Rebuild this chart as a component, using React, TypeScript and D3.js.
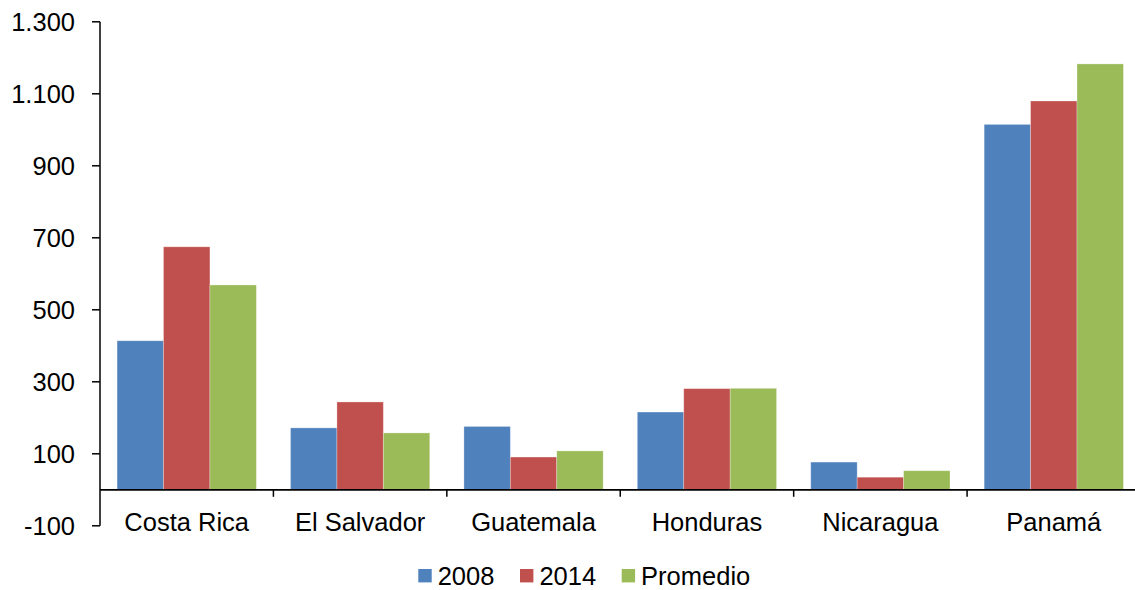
import React from "react";
import * as d3 from "d3";

const categories = ["Costa Rica", "El Salvador", "Guatemala", "Honduras", "Nicaragua", "Panamá"];
const seriesNames = ["2008", "2014", "Promedio"];
const values2008 = [414, 172, 176, 216, 77, 1015];
const values2014 = [675, 244, 91, 281, 35, 1080];
const valuesPromedio = [569, 158, 108, 282, 53, 1183];
const yTicks = [-100, 100, 300, 500, 700, 900, 1100, 1300];
const colors = ["#4F81BD", "#C0504D", "#9BBB59"];

const W = 1135;
const H = 590;
const font = "'Liberation Sans', Arial, sans-serif";
// Spanish thousands separator, plain hyphen for negatives
const fmt = (v: number) => d3.format(",")(v).replace(/,/g, ".").replace("\u2212", "-");

const App = () => {
  const seriesValues = [values2008, values2014, valuesPromedio];
  const y = d3.scaleLinear().domain([-100, 1300]).range([525.8, 21.8]);
  const x0 = d3.scaleBand().domain(categories).range([100, 1140.5]).padding(0);
  const x1 = d3.scaleBand().domain(seriesNames).range([0, x0.step()]).paddingInner(0).paddingOuter(0.368);
  const y0 = y(0);

  return (
    <svg width={W} height={H} style={{ display: "block", position: "absolute", left: 0, top: 0 }}>
      <rect width={W} height={H} fill="#fff" />
      {/* bars */}
      {categories.map((c, i) => (
        <g key={c} transform={`translate(${x0(c)},0)`}>
          {seriesNames.map((s, j) => {
            const v = seriesValues[j][i];
            return (
              <rect
                key={s}
                x={x1(s)}
                y={Math.min(y(v), y0)}
                width={x1.bandwidth()}
                height={Math.abs(y(v) - y0)}
                fill={colors[j]}
                stroke="#fff"
                strokeOpacity={0.35}
                strokeWidth={0.8}
              />
            );
          })}
        </g>
      ))}
      {/* y axis */}
      <line x1={100} x2={100} y1={y(1300)} y2={y(-100)} stroke="#000" strokeWidth={1.5} />
      {yTicks.map((t) => (
        <g key={t}>
          <line x1={92} x2={100} y1={y(t)} y2={y(t)} stroke="#000" strokeWidth={1.5} />
          <text x={75} y={y(t) + 9.3} textAnchor="end" fontFamily={font} fontSize={25.5} fill="#000">
            {fmt(t)}
          </text>
        </g>
      ))}
      {/* x axis at zero */}
      <line x1={100} x2={1141} y1={y0} y2={y0} stroke="#000" strokeWidth={1.8} />
      {categories.slice(1).map((c) => (
        <line key={c} x1={x0(c)} x2={x0(c)} y1={y0} y2={y0 + 7} stroke="#000" strokeWidth={1.5} />
      ))}
      {categories.map((c) => (
        <text
          key={c}
          x={(x0(c) as number) + x0.bandwidth() / 2}
          y={531}
          textAnchor="middle"
          fontFamily={font}
          fontSize={25.5}
          fill="#000"
        >
          {c}
        </text>
      ))}
      {/* legend */}
      {seriesNames.map((s, j) => {
        const lx = [418.3, 520, 621.7][j];
        return (
          <g key={s}>
            <rect x={lx} y={569} width={13.4} height={13.4} fill={colors[j]} />
            <text x={lx + 19.4} y={584.5} fontFamily={font} fontSize={25.5} fill="#000">
              {s}
            </text>
          </g>
        );
      })}
    </svg>
  );
};

export default App;
